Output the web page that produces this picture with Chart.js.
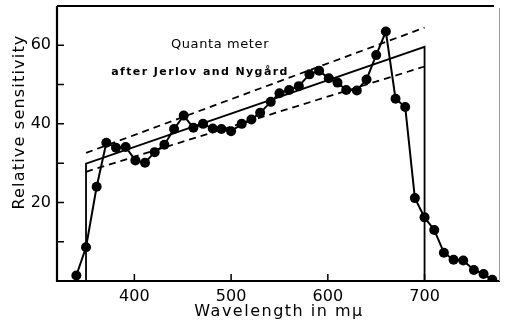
<!DOCTYPE html>
<html>
<head>
<meta charset="utf-8">
<script src="https://cdn.jsdelivr.net/npm/chart.js@4.4.1/dist/chart.umd.min.js"></script>
<style>
  html, body { margin: 0; padding: 0; background: #fff; }
  #chart { display: block; }
</style>
</head>
<body>
<canvas id="chart" width="505" height="326"></canvas>
<script>
// measured points of the quanta meter response
const wavelengths = [340, 350, 361, 371, 381, 391, 401, 411, 421, 431, 441, 451, 461, 471,
    481, 490, 500, 511, 521, 530, 541, 550, 560, 570, 581, 591, 601, 610, 619, 630,
    640, 650, 660, 670, 680, 690, 700, 710, 720, 730, 740, 751, 761, 770];
const sensitivity = [1.4, 8.6, 24.0, 35.2, 33.9, 34.1, 30.7, 30.1, 32.8, 34.7, 38.7, 42.1, 39.0, 40.0,
    38.8, 38.7, 38.1, 40.0, 41.1, 42.8, 45.6, 47.8, 48.6, 49.6, 52.6, 53.5, 51.6, 50.5, 48.6, 48.5,
    51.3, 57.5, 63.5, 46.4, 44.3, 21.1, 16.2, 13.0, 7.2, 5.4, 5.2, 2.8, 1.8, 0.3];

// ideal quanta response and its tolerance band
const idealX = [350, 350, 700, 700];
const idealY = [0, 29.9, 59.6, 0];
const bandX = [350, 700];
const upperY = [32.6, 64.5];
const lowerY = [27.8, 54.6];

const xTicks = [400, 500, 600, 700];
const yTicks = [10, 20, 30, 40, 50, 60];
const yLabels = [20, 40, 60];

function toPoints(xs, ys) {
    return xs.map((x, i) => ({ x: x, y: ys[i] }));
}

const frame = {
    id: 'frame',
    afterDraw(chart) {
        const ctx = chart.ctx;
        const a = chart.chartArea;
        const xs = chart.scales.x;
        const ys = chart.scales.y;
        ctx.save();
        ctx.strokeStyle = '#000';
        ctx.fillStyle = '#000';

        // axes and top border
        ctx.lineWidth = 2.2;
        ctx.beginPath();
        ctx.moveTo(a.left, a.top);
        ctx.lineTo(a.left, a.bottom);
        ctx.lineTo(a.right, a.bottom);
        ctx.moveTo(a.left, a.top);
        ctx.lineTo(a.right - 6, a.top);
        ctx.stroke();
        ctx.lineWidth = 1;
        ctx.strokeStyle = '#999';
        ctx.beginPath();
        ctx.moveTo(a.right - 0.5, a.top + 2);
        ctx.lineTo(a.right - 0.5, a.bottom);
        ctx.stroke();

        // inward ticks
        ctx.strokeStyle = '#000';
        ctx.lineWidth = 1.5;
        ctx.beginPath();
        xTicks.forEach(v => {
            const px = xs.getPixelForValue(v);
            ctx.moveTo(px, a.bottom);
            ctx.lineTo(px, a.bottom - 7);
        });
        yTicks.forEach(v => {
            const py = ys.getPixelForValue(v);
            ctx.moveTo(a.left, py);
            ctx.lineTo(a.left + 7, py);
        });
        ctx.stroke();

        // tick labels
        ctx.font = '500 16px "DejaVu Sans"';
        ctx.textBaseline = 'middle';
        ctx.textAlign = 'center';
        xTicks.forEach(v => {
            ctx.fillText(String(v), xs.getPixelForValue(v), a.bottom + 16);
        });
        ctx.textAlign = 'right';
        yLabels.forEach(v => {
            ctx.fillText(String(v), a.left - 6, ys.getPixelForValue(v));
        });

        // axis titles
        ctx.textAlign = 'center';
        ctx.font = '16px "DejaVu Sans"';
        ctx.letterSpacing = '1.5px';
        ctx.fillText('Wavelength in mμ', 279, 312);
        ctx.save();
        ctx.translate(20, 122);
        ctx.rotate(-Math.PI / 2);
        ctx.letterSpacing = '1.2px';
        ctx.fillText('Relative sensitivity', 0, 0);
        ctx.restore();

        // annotation
        ctx.font = '13px "DejaVu Sans"';
        ctx.letterSpacing = '0.6px';
        ctx.fillText('Quanta meter', 220, 45);
        ctx.font = 'bold 11px "DejaVu Sans"';
        ctx.letterSpacing = '1.4px';
        ctx.fillText('after Jerlov and Nygård', 200, 72);
        ctx.restore();
    }
};

new Chart(document.getElementById('chart'), {
    type: 'scatter',
    data: {
        datasets: [
            {
                data: toPoints(wavelengths, sensitivity),
                showLine: true,
                borderColor: '#000',
                backgroundColor: '#000',
                borderWidth: 2,
                pointRadius: 5,
                pointBorderWidth: 0,
                tension: 0
            },
            {
                data: toPoints(idealX, idealY),
                showLine: true,
                borderColor: '#000',
                borderWidth: 1.8,
                pointRadius: 0
            },
            {
                data: toPoints(bandX, upperY),
                showLine: true,
                borderColor: '#000',
                borderWidth: 1.8,
                borderDash: [7, 5],
                pointRadius: 0
            },
            {
                data: toPoints(bandX, lowerY),
                showLine: true,
                borderColor: '#000',
                borderWidth: 1.8,
                borderDash: [7, 5],
                pointRadius: 0
            }
        ]
    },
    options: {
        responsive: false,
        animation: false,
        layout: { padding: { left: 57, right: 2, top: 6, bottom: 45 } },
        plugins: {
            legend: { display: false },
            tooltip: { enabled: false }
        },
        scales: {
            x: { type: 'linear', min: 320, max: 778, display: false },
            y: { type: 'linear', min: 0, max: 70, display: false }
        }
    },
    plugins: [frame]
});
</script>
</body>
</html>
